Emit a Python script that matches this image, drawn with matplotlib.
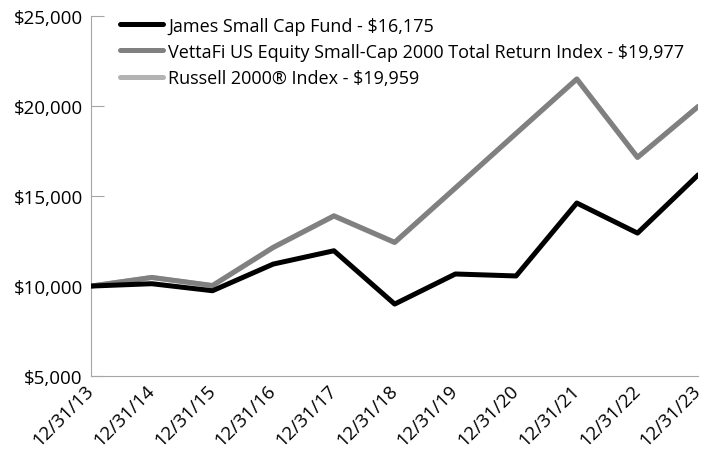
import matplotlib.pyplot as plt
from matplotlib.ticker import FuncFormatter

dates = ['12/31/13', '12/31/14', '12/31/15', '12/31/16', '12/31/17', '12/31/18',
         '12/31/19', '12/31/20', '12/31/21', '12/31/22', '12/31/23']
fund = [10000, 10130, 9740, 11220, 11960, 9000, 10670, 10560, 14610, 12940, 16175]
vettafi = [10000, 10480, 10030, 12150, 13900, 12430, 15450, 18480, 21500, 17150, 19977]
russell = [10000, 10470, 10020, 12130, 13880, 12410, 15430, 18460, 21480, 17130, 19959]

labels = ['James Small Cap Fund - $16,175',
          'VettaFi US Equity Small-Cap 2000 Total Return Index - $19,977',
          'Russell 2000\u00ae Index - $19,959']

plt.rcParams['font.family'] = ['Open Sans', 'DejaVu Sans']

fig = plt.figure(figsize=(7.06, 4.56), dpi=100)
ax = fig.add_axes([0.129, 0.173, 0.860, 0.790])

x = range(len(dates))
l3, = ax.plot(x, russell, color='#b3b3b3', lw=3.6, solid_capstyle='round', zorder=2)
l2, = ax.plot(x, vettafi, color='#808080', lw=3.6, solid_capstyle='round', zorder=3)
l1, = ax.plot(x, fund, color='black', lw=3.6, solid_capstyle='round', zorder=4)

ax.set_xlim(0, len(dates) - 1)
ax.set_ylim(5000, 25000)
ax.set_yticks([5000, 10000, 15000, 20000, 25000])
ax.yaxis.set_major_formatter(FuncFormatter(lambda v, p: '${:,.0f}'.format(v)))
ax.set_xticks(list(x))
ax.set_xticklabels(dates, rotation=45, ha='right', va='center', rotation_mode='anchor')

for s in ['top', 'right']:
    ax.spines[s].set_visible(False)
for s in ['left', 'bottom']:
    ax.spines[s].set_color('#a6a6a6')
ax.tick_params(axis='y', direction='in', length=9, color='#a6a6a6', labelsize=13.5, pad=6)
ax.tick_params(axis='x', length=0, labelsize=13.5, pad=8)

leg = ax.legend([l1, l2, l3], labels, loc='upper left', bbox_to_anchor=(0.036, 1.018),
                frameon=False, fontsize=13, handlelength=2.4, handletextpad=0.25,
                labelspacing=0.45, borderaxespad=0)

fig.savefig('out.png', dpi=100)
